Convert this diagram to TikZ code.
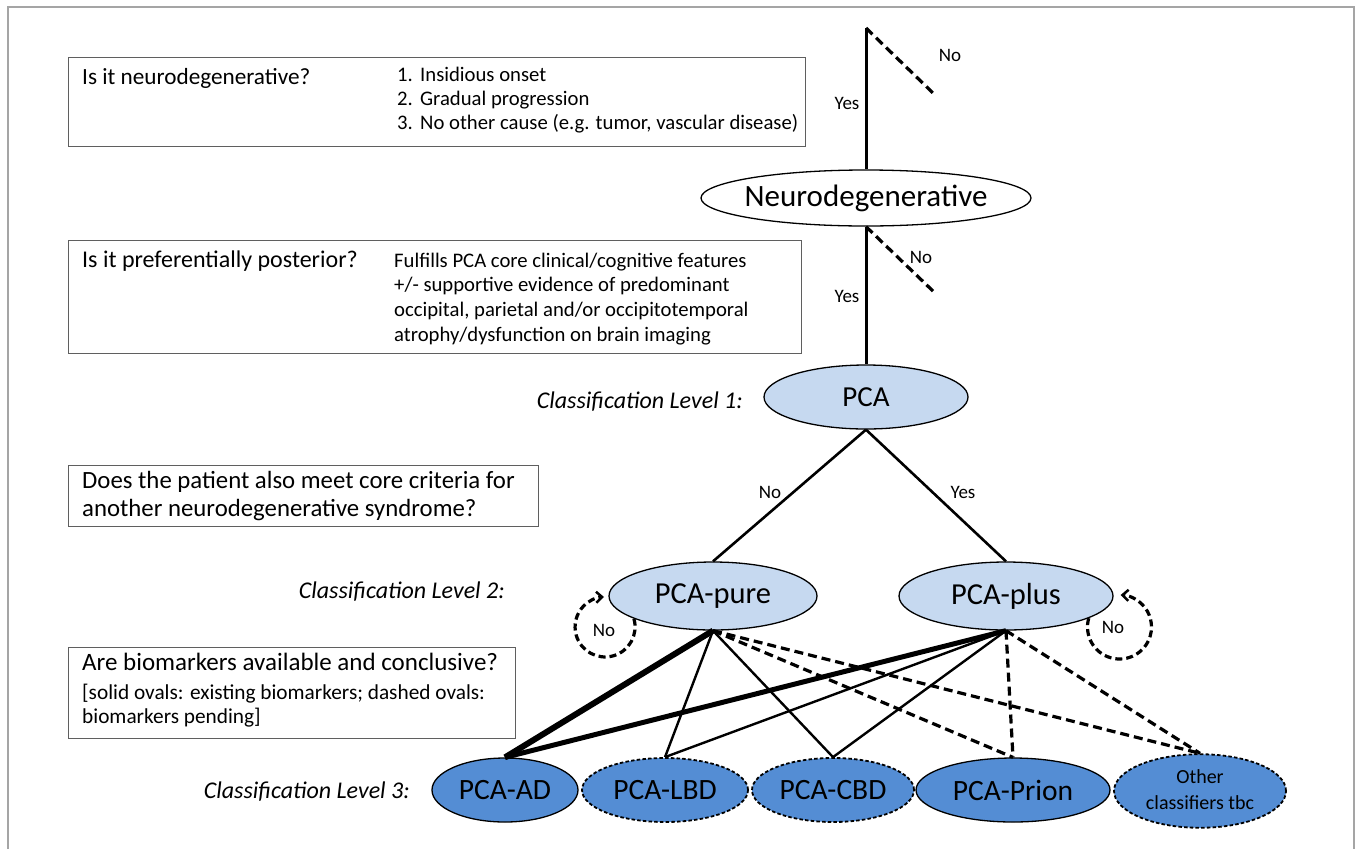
\documentclass[tikz,border=0pt]{standalone}
\usepackage{fontspec}
\setmainfont{Carlito}
\usetikzlibrary{shapes.geometric,arrows.meta}
\definecolor{lightblue}{RGB}{198,217,240}
\definecolor{midblue}{RGB}{84,141,212}
\definecolor{boxgray}{RGB}{95,95,95}
\definecolor{framegray}{RGB}{165,165,165}
\tikzset{
  oval/.style={ellipse, draw=black, line width=1.3pt, inner sep=0pt},
  ovalsolid/.style={oval, fill=midblue, minimum height=64pt},
  ovaldash/.style={oval, fill=midblue, minimum height=64pt, dash pattern=on 3.5pt off 2.2pt, line width=1.8pt},
  qbox/.style={draw=boxgray, line width=1.4pt, anchor=north west, inner sep=0pt},
  conn/.style={line width=3pt},
  conn2/.style={line width=2.6pt},
  thinconn/.style={line width=2.4pt},
  heavyconn/.style={line width=6pt},
  dashconn/.style={line width=3.2pt, dash pattern=on 9pt off 5pt},
  lbl/.style={font=\fontsize{19}{22}\selectfont, inner sep=0pt},
  qtxt/.style={anchor=base west, inner sep=0pt, font=\fontsize{24}{28}\selectfont},
  ltxt/.style={anchor=base west, inner sep=0pt, font=\fontsize{20.7}{24}\selectfont},
  stxt/.style={anchor=base west, inner sep=0pt, font=\fontsize{21.3}{24}\selectfont},
  cls/.style={anchor=base east, inner sep=0pt, font=\fontsize{24}{28}\selectfont\itshape},
}
\begin{document}
\begin{tikzpicture}[x=1pt,y=-1pt]
\useasboundingbox (0,0) rectangle (1356,849);
\fill[white] (0,0) rectangle (1356,849);
\draw[framegray, line width=2pt] (8,849) -- (8,7) -- (1354,7) -- (1354,849);

% question boxes
\node[qbox, minimum width=737pt, minimum height=89pt] (box1) at (68,57) {};
\node[qtxt, font=\fontsize{23.2}{28}\selectfont] (q1) at (82,84) {Is it neurodegenerative?};
\node[ltxt] (q1a) at (397,81.5) {\makebox[23pt][l]{1.}Insidious onset};
\node[ltxt] (q1b) at (397,105.5) {\makebox[23pt][l]{2.}Gradual progression};
\node[ltxt] (q1c) at (397,129.5) {\makebox[23pt][l]{3.}No other cause (e.g. tumor, vascular disease)};

\node[qbox, minimum width=733pt, minimum height=113pt] (box2) at (68,240) {};
\node[qtxt] (q2) at (82,267) {Is it preferentially posterior?};
\node[ltxt] (q2a) at (394,267) {Fulfills PCA core clinical/cognitive features};
\node[ltxt] (q2b) at (394,291) {+/- supportive evidence of predominant};
\node[ltxt] (q2c) at (394,316) {occipital, parietal and/or occipitotemporal};
\node[ltxt] (q2d) at (394,341) {atrophy/dysfunction on brain imaging};

\node[qbox, minimum width=470pt, minimum height=61pt] (box3) at (68,465) {};
\node[qtxt, font=\fontsize{24.8}{28}\selectfont] (q3a) at (82,488) {Does the patient also meet core criteria for};
\node[qtxt, font=\fontsize{24.8}{28}\selectfont] (q3b) at (82,516) {another neurodegenerative syndrome?};

\node[qbox, minimum width=447pt, minimum height=91pt] (box4) at (68,647) {};
\node[qtxt, font=\fontsize{25}{28}\selectfont] (q4a) at (82,670) {Are biomarkers available and conclusive?};
\node[stxt] (q4b) at (82,699) {[solid ovals: existing biomarkers; dashed ovals:};
\node[stxt] (q4c) at (82,723) {biomarkers pending]};

% classification labels
\node[cls] (c1) at (743,408) {Classification Level 1:};
\node[cls] (c2) at (505,598) {Classification Level 2:};
\node[cls] (c3) at (410,798) {Classification Level 3:};

% ovals
\node[oval, fill=white, minimum width=330pt, minimum height=56pt, font=\fontsize{31}{34}\selectfont] (neuro) at (866,198) {\makebox[0pt]{Neurodegenerative}};
\node[oval, fill=lightblue, minimum width=204pt, minimum height=64pt, font=\fontsize{29}{32}\selectfont] (pca) at (866,397) {\makebox[0pt]{PCA}};
\node[oval, fill=lightblue, minimum width=208pt, minimum height=68pt, font=\fontsize{30.5}{33}\selectfont] (pure) at (713,596) {\makebox[0pt]{PCA-pure}};
\node[oval, fill=lightblue, minimum width=214pt, minimum height=68pt, font=\fontsize{30.5}{33}\selectfont] (plus) at (1006,596) {\makebox[0pt]{PCA-plus}};

\node[ovalsolid, minimum width=146pt, font=\fontsize{29.5}{32}\selectfont] (ad) at (505,790) {\makebox[0pt]{PCA-AD}};
\node[ovaldash, minimum width=166pt, font=\fontsize{29.5}{32}\selectfont] (lbd) at (665,790) {\makebox[0pt]{PCA-LBD}};
\node[ovaldash, minimum width=162pt, font=\fontsize{29.5}{32}\selectfont] (cbd) at (833,790) {\makebox[0pt]{PCA-CBD}};
\node[ovalsolid, minimum width=194pt, font=\fontsize{29.5}{32}\selectfont] (prion) at (1013,790) {\makebox[0pt]{PCA-Prion}};
\node[ovaldash, minimum width=172pt, font=\fontsize{20}{26}\selectfont] (other) at (1200,791) {\makebox[0pt]{\begin{tabular}{@{}c@{}}Other\\[0pt]classifiers tbc\end{tabular}}};

% top connectors
\coordinate (top) at (866,28);
\coordinate (no1) at (935,95);
\coordinate (no2) at (935,293);
\draw[conn] (top) -- (neuro.north);
\draw[dashconn] (top) -- (no1);
\draw[conn] (neuro.south) -- (pca.north);
\draw[dashconn] (neuro.south) -- (no2);
\node[lbl] (lno1) at (950,55) {No};
\node[lbl] (lyes1) at (847,103) {Yes};
\node[lbl] (lno2) at (921,257) {No};
\node[lbl] (lyes2) at (847,296) {Yes};

\draw[conn2] (pca.south) -- (pure.north);
\draw[conn2] (pca.south) -- (plus.north);
\node[lbl] (lno3) at (770,492) {No};
\node[lbl] (lyes3) at (963,492) {Yes};

% lower connectors
\draw[heavyconn] (pure.south) -- (ad.north);
\draw[thinconn] (pure.south) -- (lbd.north);
\draw[thinconn] (pure.south) -- (cbd.north);
\draw[dashconn] (pure.south) -- (prion.north);
\draw[dashconn] (pure.south) -- (other.north);
\draw[heavyconn, line width=5pt] (plus.south) -- (ad.north);
\draw[thinconn] (plus.south) -- (lbd.north);
\draw[thinconn] (plus.south) -- (cbd.north);
\draw[dashconn] (plus.south) -- (prion.north);
\draw[dashconn] (plus.south) -- (other.north);

% loops
\draw[dashconn, dash pattern=on 7pt off 4pt, -{Straight Barb[length=6pt,width=11pt,line width=2.5pt]}] (pure.196) arc[start angle=-16, end angle=268, radius=30];
\draw[dashconn, dash pattern=on 7pt off 4pt, -{Straight Barb[length=6pt,width=11pt,line width=2.5pt]}] (plus.345) arc[start angle=196, end angle=-88, radius=32];
\node[lbl] (lno4) at (604,630) {No};
\node[lbl] (lno5) at (1113,627) {No};
\end{tikzpicture}
\end{document}
